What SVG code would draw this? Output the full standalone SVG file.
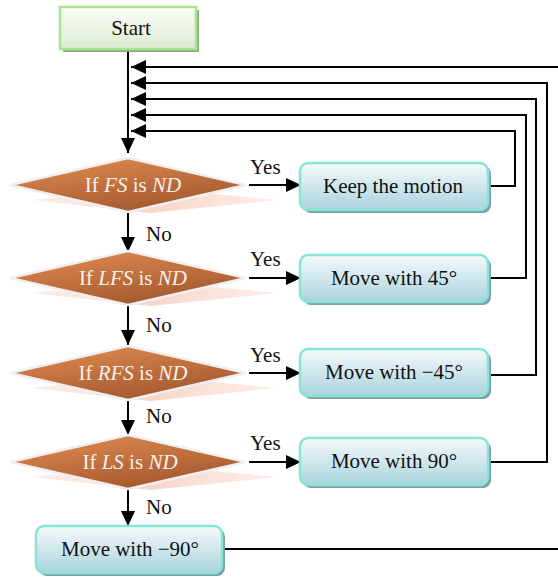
<svg xmlns="http://www.w3.org/2000/svg" width="558" height="577" viewBox="0 0 558 577">
  <defs>
    <linearGradient id="startFill" x1="0" y1="0" x2="0" y2="1">
      <stop offset="0" stop-color="#fbfdf9"/>
      <stop offset="1" stop-color="#dcebd0"/>
    </linearGradient>
    <linearGradient id="boxFill" x1="0" y1="0" x2="0" y2="1">
      <stop offset="0" stop-color="#f6fafb"/>
      <stop offset="1" stop-color="#a9d3dd"/>
    </linearGradient>
    <linearGradient id="decFill" x1="0" y1="0" x2="0.55" y2="1">
      <stop offset="0" stop-color="#e68d52"/>
      <stop offset="1" stop-color="#a3592f"/>
    </linearGradient>
    <linearGradient id="decShadow" x1="0" y1="0" x2="1" y2="0">
      <stop offset="0" stop-color="#fbe3da" stop-opacity="0.6"/>
      <stop offset="0.5" stop-color="#f8d6c9"/>
      <stop offset="1" stop-color="#fbe3da" stop-opacity="0.6"/>
    </linearGradient>
    <marker id="arrow" viewBox="0 0 15 14" refX="15" refY="7" markerWidth="15" markerHeight="14" markerUnits="userSpaceOnUse" orient="auto">
      <path d="M0,0 L15,7 L0,14 Z" fill="#000"/>
    </marker>
  </defs>
  <style>
    .txt { font-family: "Liberation Serif", "Times New Roman", serif; font-size: 21px; fill: #111; }
    .dtxt { font-family: "Liberation Serif", "Times New Roman", serif; font-size: 21px; fill: #f7f1ec; text-anchor: middle; }
    .ctr { text-anchor: middle; }
    .it { font-style: italic; }
    .box { fill: url(#boxFill); stroke: #86e6d6; stroke-width: 2.5; }
    .boxShadow { fill: #7f9ea8; }
    .dec { fill: url(#decFill); stroke: #efefef; stroke-width: 2.5; }
    .decShadow { fill: url(#decShadow); }
    .link { fill: none; stroke: #000; stroke-width: 2; }
    .arr { marker-end: url(#arrow); }
  </style>

  <!-- connectors -->
  <g id="connectors">
    <path class="link arr" d="M128,50 V153"/>
    <path class="link arr" d="M128,213 V252"/>
    <path class="link arr" d="M128,306 V345"/>
    <path class="link arr" d="M128,401 V435"/>
    <path class="link arr" d="M128,490 V526"/>
    <path class="link arr" d="M249,185 H301"/>
    <path class="link arr" d="M249,278 H301"/>
    <path class="link arr" d="M249,373 H301"/>
    <path class="link arr" d="M249,462 H301"/>
    <path class="link arr" d="M488,186 H515 V131 H131"/>
    <path class="link arr" d="M488,278 H526 V115 H131"/>
    <path class="link arr" d="M488,375 H536 V99 H131"/>
    <path class="link arr" d="M488,462 H547 V83 H131"/>
    <path class="link arr" d="M223,549 H561 V67 H131"/>
    <text class="txt" x="250" y="174">Yes</text>
    <text class="txt" x="250" y="266">Yes</text>
    <text class="txt" x="250" y="362">Yes</text>
    <text class="txt" x="250" y="450">Yes</text>
    <text class="txt" x="146" y="241">No</text>
    <text class="txt" x="146" y="332">No</text>
    <text class="txt" x="146" y="423">No</text>
    <text class="txt" x="146" y="514">No</text>
  </g>

  <!-- start terminal -->
  <g id="start">
    <rect x="63" y="10" width="136" height="42" fill="#8fab80"/>
    <rect x="60" y="7" width="136" height="42" fill="url(#startFill)" stroke="#a8e58e" stroke-width="2.5"/>
    <text class="txt ctr" x="131" y="35">Start</text>
  </g>

  <!-- decisions -->
  <g id="dec-fs">
    <polygon class="decShadow" points="32,200 150,188 277,200 150,213"/>
    <polygon class="dec" points="10,185 128,158 246,185 128,212"/>
    <text class="dtxt" x="133" y="192">If <tspan class="it">FS</tspan> is <tspan class="it">ND</tspan></text>
  </g>
  <g id="dec-lfs">
    <polygon class="decShadow" points="32,293 150,281 277,293 150,306"/>
    <polygon class="dec" points="10,278 128,251 246,278 128,305"/>
    <text class="dtxt" x="133" y="285">If <tspan class="it">LFS</tspan> is <tspan class="it">ND</tspan></text>
  </g>
  <g id="dec-rfs">
    <polygon class="decShadow" points="32,388 150,376 277,388 150,401"/>
    <polygon class="dec" points="10,373 128,346 246,373 128,400"/>
    <text class="dtxt" x="133" y="380">If <tspan class="it">RFS</tspan> is <tspan class="it">ND</tspan></text>
  </g>
  <g id="dec-ls">
    <polygon class="decShadow" points="32,477 150,465 277,477 150,490"/>
    <polygon class="dec" points="10,462 128,435 246,462 128,489"/>
    <text class="dtxt" x="130" y="469">If <tspan class="it">LS</tspan> is <tspan class="it">ND</tspan></text>
  </g>

  <!-- actions -->
  <g id="keep">
    <rect class="boxShadow" x="303" y="166" width="188" height="47" rx="8"/>
    <rect class="box" x="300" y="163" width="188" height="47" rx="8"/>
    <text class="txt ctr" x="393" y="193">Keep the motion</text>
  </g>
  <g id="move-45">
    <rect class="boxShadow" x="303" y="258" width="188" height="47" rx="8"/>
    <rect class="box" x="300" y="255" width="188" height="47" rx="8"/>
    <text class="txt ctr" x="394" y="285">Move with 45°</text>
  </g>
  <g id="move-m45">
    <rect class="boxShadow" x="303" y="352" width="188" height="47" rx="8"/>
    <rect class="box" x="300" y="349" width="188" height="47" rx="8"/>
    <text class="txt ctr" x="394" y="379">Move with −45°</text>
  </g>
  <g id="move-90">
    <rect class="boxShadow" x="303" y="441" width="188" height="47" rx="8"/>
    <rect class="box" x="300" y="438" width="188" height="47" rx="8"/>
    <text class="txt ctr" x="394" y="468">Move with 90°</text>
  </g>
  <g id="move-m90">
    <rect class="boxShadow" x="39" y="529" width="186" height="47" rx="8"/>
    <rect class="box" x="36" y="526" width="186" height="47" rx="8"/>
    <text class="txt ctr" x="130" y="556">Move with −90°</text>
  </g>
</svg>
